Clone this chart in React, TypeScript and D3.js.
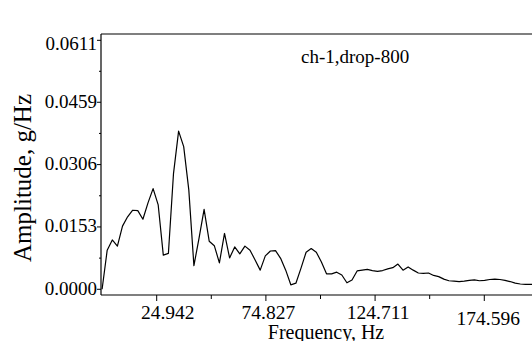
import React, { useEffect } from "react";
import * as d3 from "d3";

// Frequency-bin step (Hz) and amplitude spectrum
const FREQ_STEP = 2.33;
const amplitudes = [
  0.0, 0.0096, 0.0121, 0.0106, 0.0155, 0.0178, 0.0194, 0.0193, 0.0172, 0.0212,
  0.0247, 0.0207, 0.0084, 0.0088, 0.0284, 0.0388, 0.035, 0.0244, 0.0058, 0.0125,
  0.0196, 0.0118, 0.0107, 0.0065, 0.0137, 0.0077, 0.0104, 0.0087, 0.0106, 0.0096,
  0.0072, 0.0047, 0.0082, 0.0094, 0.0095, 0.0076, 0.0047, 0.0011, 0.0015, 0.0052,
  0.0091, 0.01, 0.0091, 0.0067, 0.0038, 0.0038, 0.0042, 0.0035, 0.0016, 0.0023,
  0.0045, 0.0047, 0.0049, 0.0046, 0.0044, 0.0046, 0.005, 0.0053, 0.0062, 0.0047,
  0.0055, 0.0047, 0.004, 0.0039, 0.004, 0.0034, 0.0031, 0.0025, 0.0021, 0.002,
  0.0019, 0.002, 0.0022, 0.0023, 0.0021, 0.0022, 0.0024, 0.0025, 0.0024, 0.0022,
  0.0019, 0.0015, 0.0013, 0.0012, 0.0012, 0.0012,
];

const xMajorTicks = [24.942, 74.827, 124.711, 174.596];
const xMajorLabels = ["24.942", "74.827", "124.711", "174.596"];
const xMinorTicks = [49.885, 99.769, 149.654];
const yMajorTicks = [0, 0.0153, 0.0306, 0.0459, 0.0611];
const yMajorLabels = ["0.0000", "0.0153", "0.0306", "0.0459", "0.0611"];
const yMinorTicks = [0.00765, 0.02295, 0.03825, 0.0535];

const title = "ch-1,drop-800";
const xTitle = "Frequency, Hz";
const yTitle = "Amplitude, g/Hz";

const W = 532;
const H = 341;
const left = 101;
const top = 34;
const bottom = 295;

export default function App() {
  useEffect(() => {
    document.body.style.margin = "0";
  }, []);

  const x = d3.scaleLinear().domain([-0.5, 199.54]).range([left, left + 200.04 * 2.189]);
  const y = d3.scaleLinear().domain([-0.0014, 0.06265]).range([bottom, top]);

  const pts: [number, number][] = amplitudes.map((a, i) => [i * FREQ_STEP, a]);
  const line = d3
    .line<[number, number]>()
    .x((d) => x(d[0]))
    .y((d) => y(d[1]));

  const ts = { fontFamily: "Liberation Serif" };
  const xLabelDx = [11, 2.5, 3, 4];
  const xLabelDy = [0, 0, 0, 6];

  return (
    <svg
      width={W}
      height={H}
      style={{ position: "absolute", left: 0, top: 0, background: "#fff" }}
    >
      <rect x={0} y={0} width={W} height={H} fill="#fff" />
      {/* frame */}
      <line x1={left} x2={W} y1={top} y2={top} stroke="#000" strokeWidth={1.2} />
      <line x1={left} x2={left} y1={top} y2={bottom} stroke="#000" strokeWidth={1.2} />
      <line x1={left} x2={W} y1={bottom} y2={bottom} stroke="#000" strokeWidth={1.2} />

      {/* y ticks */}
      {yMajorTicks.map((v, i) => (
        <g key={"ym" + i}>
          <line x1={left - 4} x2={left} y1={y(v)} y2={y(v)} stroke="#000" strokeWidth={1} />
          <text
            x={left - 4}
            y={y(v) + (i === yMajorTicks.length - 1 ? 3 : -1)}
            textAnchor="end"
            dominantBaseline="central"
            fontSize={19}
            style={ts}
          >
            {yMajorLabels[i]}
          </text>
        </g>
      ))}
      {yMinorTicks.map((v, i) => (
        <line key={"yn" + i} x1={left - 2} x2={left} y1={y(v)} y2={y(v)} stroke="#000" strokeWidth={1} />
      ))}

      {/* x ticks */}
      {xMajorTicks.map((v, i) => (
        <g key={"xm" + i}>
          <line x1={x(v)} x2={x(v)} y1={bottom} y2={bottom + 6} stroke="#000" strokeWidth={1} />
          <text
            x={x(v) + xLabelDx[i]}
            y={319 + xLabelDy[i]}
            textAnchor="middle"
            fontSize={19.5}
            style={ts}
          >
            {xMajorLabels[i]}
          </text>
        </g>
      ))}
      {xMinorTicks.map((v, i) => (
        <line key={"xn" + i} x1={x(v)} x2={x(v)} y1={bottom} y2={bottom + 4} stroke="#000" strokeWidth={1} />
      ))}

      {/* data */}
      <path d={line(pts) || ""} fill="none" stroke="#000" strokeWidth={1.2} strokeLinejoin="round" />

      {/* texts */}
      <text x={301} y={63.3} fontSize={19} textAnchor="start" style={ts}>
        {title}
      </text>
      <text x={326} y={339} fontSize={20} textAnchor="middle" style={ts}>
        {xTitle}
      </text>
      <text
        transform={`translate(31, 178) rotate(-90)`}
        fontSize={25}
        textAnchor="middle"
        style={ts}
      >
        {yTitle}
      </text>
    </svg>
  );
}
